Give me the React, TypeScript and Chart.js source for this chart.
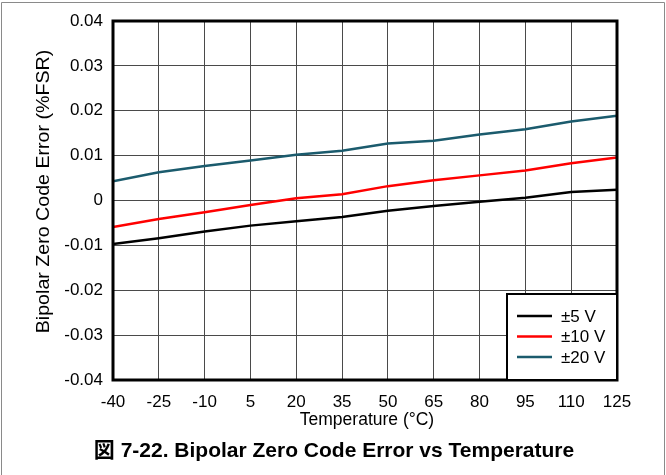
import React, { useEffect, useRef } from 'react';
import { Chart, registerables } from 'chart.js';

Chart.register(...registerables);

const temperatures = [-40, -25, -10, 5, 20, 35, 50, 65, 80, 95, 110, 125];
const err5V = [-0.0097, -0.0084, -0.0069, -0.0056, -0.0046, -0.0037, -0.0023, -0.0012, -0.0003, 0.0006, 0.0019, 0.0024];
const err10V = [-0.0059, -0.0041, -0.0026, -0.001, 0.0005, 0.0014, 0.0032, 0.0045, 0.0056, 0.0067, 0.0083, 0.0096];
const err20V = [0.0043, 0.0063, 0.0077, 0.0089, 0.0102, 0.0111, 0.0127, 0.0133, 0.0147, 0.0159, 0.0176, 0.0189];
const seriesLabels = ['±5 V', '±10 V', '±20 V'];
const seriesColors = ['#000000', '#ff0000', '#1b5b6d'];
const yMin = -0.04;
const yMax = 0.04;
const yStep = 0.01;
const xTitle = 'Temperature (°C)';
const yTitle = 'Bipolar Zero Code Error (%FSR)';
const caption = '図 7-22. Bipolar Zero Code Error vs Temperature';

const W = 666;
const H = 475;
const FONT = '"Liberation Sans", Arial, "Noto Sans CJK JP", sans-serif';

const decorPlugin = {
  id: 'decor',
  beforeDraw(chart: any) {
    const ctx = chart.ctx;
    ctx.save();
    ctx.fillStyle = '#fff';
    ctx.fillRect(0, 0, W, H);
    ctx.strokeStyle = '#8a8a8a';
    ctx.lineWidth = 1;
    ctx.beginPath();
    ctx.moveTo(1.5, H + 2);
    ctx.lineTo(1.5, 2.5);
    ctx.lineTo(664.5, 2.5);
    ctx.lineTo(664.5, H + 2);
    ctx.stroke();
    ctx.restore();
  },
  afterDatasetsDraw(chart: any) {
    const ctx = chart.ctx;
    const a = chart.chartArea;
    ctx.save();
    // frame
    ctx.strokeStyle = '#000';
    ctx.lineWidth = 3;
    ctx.strokeRect(a.left, a.top, a.right - a.left, a.bottom - a.top);

    // legend box
    const bx = 507, by = 294, bw = a.right - 507, bh = a.bottom - 294;
    ctx.fillStyle = '#fff';
    ctx.fillRect(bx, by, bw, bh);
    ctx.lineWidth = 2;
    ctx.strokeRect(bx, by, bw, bh);
    ctx.font = `17px ${FONT}`;
    ctx.textBaseline = 'middle';
    ctx.textAlign = 'left';
    chart.data.datasets.forEach((ds: any, i: number) => {
      const y = 316 + i * 20.5;
      ctx.strokeStyle = ds.borderColor;
      ctx.lineWidth = 2.5;
      ctx.beginPath();
      ctx.moveTo(517, y);
      ctx.lineTo(552, y);
      ctx.stroke();
      ctx.fillStyle = '#000';
      ctx.fillText(ds.label, 561, y + 1);
    });

    // axis titles
    ctx.fillStyle = '#000';
    ctx.font = `17.5px ${FONT}`;
    ctx.textAlign = 'center';
    ctx.textBaseline = 'alphabetic';
    ctx.fillText(xTitle, 367, 425);
    ctx.save();
    ctx.translate(44, 191.5);
    ctx.rotate(-Math.PI / 2);
    ctx.scale(1.09, 1);
    ctx.font = `18px ${FONT}`;
    ctx.textBaseline = 'middle';
    ctx.fillText(yTitle, 0, 0);
    ctx.restore();

    // caption
    ctx.font = `bold 21px ${FONT}`;
    ctx.textBaseline = 'alphabetic';
    ctx.fillText(caption, 334, 457);
    ctx.restore();
  },
};

export default function App() {
  const ref = useRef<HTMLCanvasElement | null>(null);
  useEffect(() => {
    document.body.style.margin = '0';
    document.body.style.overflow = 'hidden';
    const canvas = ref.current;
    if (!canvas) return;
    const mk = (vals: number[]) => temperatures.map((t, i) => ({ x: t, y: vals[i] }));
    const chart = new Chart(canvas, {
      type: 'line',
      data: {
        datasets: [err5V, err10V, err20V].map((vals, i) => ({
          label: seriesLabels[i],
          data: mk(vals),
          borderColor: seriesColors[i],
          backgroundColor: seriesColors[i],
          borderWidth: 2.5,
          pointRadius: 0,
          tension: 0,
        })),
      },
      options: {
        animation: false,
        responsive: false,
        maintainAspectRatio: false,
        layout: { padding: { left: 0, top: 21, right: W - 617, bottom: 0 } },
        plugins: {
          legend: { display: false },
          tooltip: { enabled: false },
          title: { display: false },
        },
        scales: {
          x: {
            type: 'linear',
            min: temperatures[0],
            max: temperatures[temperatures.length - 1],
            afterBuildTicks: (scale: any) => {
              scale.ticks = temperatures.map((v) => ({ value: v }));
            },
            afterFit: (scale: any) => {
              scale.height = H - 380;
            },
            grid: { color: '#4a4a4a', lineWidth: 1, drawTicks: false },
            border: { display: false },
            ticks: {
              color: '#000',
              font: { family: FONT, size: 17 },
              padding: 12,
              maxRotation: 0,
              autoSkip: false,
              callback: (v: any) => String(v),
            },
          },
          y: {
            type: 'linear',
            min: yMin,
            max: yMax,
            afterBuildTicks: (scale: any) => {
              const t = [];
              for (let i = 0; i <= Math.round((yMax - yMin) / yStep); i++) {
                t.push({ value: Math.round((yMin + i * yStep) * 1000) / 1000 });
              }
              scale.ticks = t;
            },
            afterFit: (scale: any) => {
              scale.width = 113;
            },
            grid: { color: '#4a4a4a', lineWidth: 1, drawTicks: false },
            border: { display: false },
            ticks: {
              color: '#000',
              font: { family: FONT, size: 17 },
              padding: 10,
              autoSkip: false,
              callback: (v: any) => (Math.abs(v) < 1e-9 ? '0' : Number(v).toFixed(2)),
            },
          },
        },
      },
      plugins: [decorPlugin],
    });
    return () => chart.destroy();
  }, []);
  return (
    <div style={{ width: W, height: H, position: 'relative' }}>
      <canvas ref={ref} width={W} height={H} style={{ width: W, height: H, display: 'block' }} />
    </div>
  );
}
